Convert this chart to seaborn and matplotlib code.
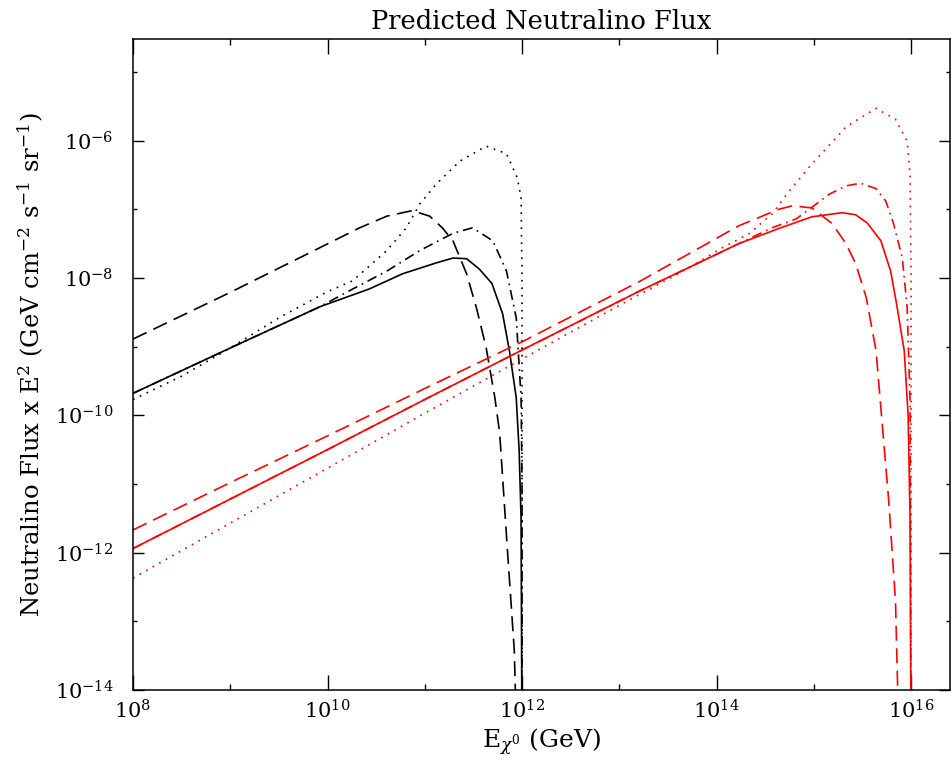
import numpy as np
import pandas as pd
import matplotlib
matplotlib.use('Agg')
import matplotlib.pyplot as plt
from matplotlib.ticker import FixedLocator, FuncFormatter, NullFormatter
import seaborn as sns

# ============================================
# data (log10 E [GeV], log10 flux*E^2)
# ============================================
bk_solid_logE = [8.0, 9.0, 9.92, 10.43, 10.77, 11.12, 11.29, 11.43, 11.56, 11.69, 11.80, 11.87, 11.94, 11.97, 11.99, 12.0]
bk_solid_logF = [-9.68, -9.02, -8.42, -8.16, -7.94, -7.78, -7.71, -7.72, -7.87, -8.08, -8.52, -9.06, -9.74, -10.51, -11.5, -15.0]

bk_dash_logE = [8.0, 9.0, 9.92, 10.33, 10.61, 10.87, 11.05, 11.18, 11.29, 11.43, 11.53, 11.63, 11.72, 11.77, 11.85, 11.92, 11.95]
bk_dash_logF = [-8.89, -8.21, -7.56, -7.27, -7.10, -7.02, -7.10, -7.27, -7.46, -7.94, -8.43, -9.01, -9.74, -10.26, -11.97, -13.42, -15.0]

bk_dot_logE = [8.0, 8.5, 9.0, 9.5, 10.0, 10.26, 10.61, 10.81, 10.95, 11.12, 11.36, 11.63, 11.84, 11.95, 11.99, 12.0, 12.0]
bk_dot_logF = [-9.77, -9.43, -9.02, -8.58, -8.20, -8.04, -7.60, -7.27, -6.92, -6.63, -6.30, -6.08, -6.19, -6.54, -6.83, -8.0, -15.0]

bk_dashdot_logE = [8.0, 9.0, 9.92, 10.26, 10.61, 10.95, 11.29, 11.49, 11.70, 11.84, 11.94, 11.99, 12.0, 12.0]
bk_dashdot_logF = [-9.68, -9.02, -8.42, -8.16, -7.90, -7.60, -7.35, -7.27, -7.46, -7.90, -8.58, -9.74, -11.0, -15.0]

rd_solid_logE = [8.0, 9.0, 10.0, 11.0, 12.0, 13.21, 14.23, 14.64, 14.98, 15.29, 15.43, 15.55, 15.69, 15.79, 15.85, 15.93, 15.97, 15.99, 16.0]
rd_solid_logF = [-11.94, -11.22, -10.50, -9.77, -9.05, -8.19, -7.50, -7.28, -7.11, -7.05, -7.08, -7.20, -7.46, -7.90, -8.37, -9.06, -10.0, -11.5, -15.0]

rd_dash_logE = [8.0, 9.0, 10.0, 11.0, 12.0, 13.21, 14.23, 14.64, 14.78, 14.98, 15.19, 15.33, 15.43, 15.54, 15.64, 15.77, 15.84, 15.88]
rd_dash_logF = [-11.67, -10.98, -10.30, -9.61, -8.93, -8.05, -7.24, -7.00, -6.95, -6.98, -7.21, -7.50, -7.79, -8.29, -9.06, -11.24, -12.7, -15.0]

rd_dot_logE = [8.0, 9.0, 10.0, 11.0, 12.0, 13.0, 13.72, 14.06, 14.33, 14.57, 14.75, 14.98, 15.23, 15.33, 15.64, 15.84, 15.96, 15.99, 16.0, 16.0]
rd_dot_logF = [-12.37, -11.57, -10.77, -9.97, -9.18, -8.40, -7.85, -7.56, -7.36, -7.07, -6.73, -6.34, -5.96, -5.80, -5.53, -5.69, -6.01, -6.49, -8.0, -15.0]

rd_dashdot_logE = [8.0, 9.0, 10.0, 11.0, 12.0, 13.21, 14.23, 14.57, 14.82, 15.16, 15.33, 15.48, 15.64, 15.74, 15.82, 15.91, 15.96, 15.99, 16.0]
rd_dashdot_logF = [-11.94, -11.22, -10.50, -9.77, -9.05, -8.19, -7.50, -7.27, -7.14, -6.78, -6.66, -6.62, -6.70, -6.88, -7.21, -7.71, -8.43, -9.8, -15.0]

x_major = [8, 10, 12, 14, 16]
x_minor = [9, 11, 13, 15]
y_major = [-14, -12, -10, -8, -6]
y_minor = [-13, -11, -9, -7, -5]

# ============================================
# style
# ============================================
sns.set_theme(style='ticks')
plt.rcParams['font.family'] = ['DejaVu Serif']
plt.rcParams['mathtext.fontset'] = 'dejavuserif'
plt.rcParams['xtick.direction'] = 'in'
plt.rcParams['ytick.direction'] = 'in'
plt.rcParams['xtick.top'] = True
plt.rcParams['ytick.right'] = True
plt.rcParams['text.color'] = 'black'
plt.rcParams['axes.labelcolor'] = 'black'
plt.rcParams['xtick.color'] = 'black'
plt.rcParams['ytick.color'] = 'black'

fig = plt.figure(figsize=(9.51, 7.64), dpi=100)
ax = fig.add_axes([0.1399, 0.0969, 0.8590, 0.8521])

curves = [
    (bk_solid_logE, bk_solid_logF, 'black', '-'),
    (bk_dash_logE, bk_dash_logF, 'black', (0, (9, 4.5))),
    (bk_dot_logE, bk_dot_logF, 'black', (0, (1, 3.5))),
    (bk_dashdot_logE, bk_dashdot_logF, 'black', (0, (6, 3, 1, 3))),
    (rd_solid_logE, rd_solid_logF, 'red', '-'),
    (rd_dash_logE, rd_dash_logF, 'red', (0, (9, 4.5))),
    (rd_dot_logE, rd_dot_logF, 'red', (0, (1, 3.5))),
    (rd_dashdot_logE, rd_dashdot_logF, 'red', (0, (6, 3, 1, 3))),
]

for logE, logF, col, ls in curves:
    df = pd.DataFrame({'E': 10.0 ** np.array(logE), 'F': 10.0 ** np.array(logF)})
    sns.lineplot(data=df, x='E', y='F', ax=ax, color=col, linestyle=ls,
                 linewidth=1.2, estimator=None, sort=False)

ax.set_xscale('log')
ax.set_yscale('log')
ax.set_xlim(1e8, 10 ** 16.4)
ax.set_ylim(1e-14, 10 ** -4.52)

ax.xaxis.set_major_locator(FixedLocator([10.0 ** v for v in x_major]))
ax.xaxis.set_minor_locator(FixedLocator([10.0 ** v for v in x_minor]))
ax.yaxis.set_major_locator(FixedLocator([10.0 ** v for v in y_major]))
ax.yaxis.set_minor_locator(FixedLocator([10.0 ** v for v in y_minor]))
fmt = FuncFormatter(lambda v, p: r'$10^{%d}$' % int(round(np.log10(v))))
ax.xaxis.set_major_formatter(fmt)
ax.yaxis.set_major_formatter(fmt)
ax.xaxis.set_minor_formatter(NullFormatter())
ax.yaxis.set_minor_formatter(NullFormatter())

ax.tick_params(axis='x', which='major', length=11, width=1, labelsize=15, pad=7, color='black')
ax.tick_params(axis='x', which='minor', length=4.5, width=1, color='black')
ax.tick_params(axis='y', which='major', length=8, width=1, labelsize=15, pad=14, color='black')
ax.tick_params(axis='y', which='minor', length=3, width=1, color='black')
for s in ax.spines.values():
    s.set_color('black')
    s.set_linewidth(1.1)

ax.set_xlabel(r'E$_{\chi^0}$ (GeV)', fontsize=18, labelpad=3)
ax.set_ylabel(r'Neutralino Flux x E$^2$ (GeV cm$^{-2}$ s$^{-1}$ sr$^{-1}$)', fontsize=17.5, labelpad=6)
ax.set_title('Predicted Neutralino Flux', fontsize=18.5, pad=7)

plt.savefig('out.png', dpi=100)
plt.close()
